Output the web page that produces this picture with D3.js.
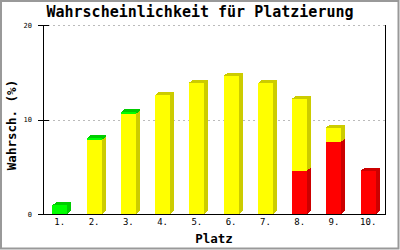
<!doctype html>
<html lang="de">
<head>
  <meta charset="utf-8">
  <script src="https://cdn.jsdelivr.net/npm/d3@7"></script>
  <title>Wahrscheinlichkeit für Platzierung</title>
  <style>
    body { margin: 0; background: #fff; }
    text { font-family: "DejaVu Sans Mono", monospace; fill: #000; }
  </style>
</head>
<body>
  <svg id="chart" width="400" height="250"></svg>
  <script>
    // data (values in %)
    const places = ["1.", "2.", "3.", "4.", "5.", "6.", "7.", "8.", "9.", "10."];
    const red    = [0, 0, 0, 0, 0, 0, 0, 4.6, 7.65, 4.6];
    const yellow = [0, 7.85, 10.6, 12.6, 13.9, 14.65, 13.85, 7.6, 1.5, 0];
    const green  = [0.9, 0.2, 0.2, 0, 0, 0, 0, 0, 0, 0];
    const yTicks = [0, 10, 20];

    const colors = {
      red:    { front: "#ff0000", dark: "#cc0000" },
      yellow: { front: "#ffff00", dark: "#cccc00" },
      green:  { front: "#00ff00", dark: "#00cc00" }
    };

    const rows = places.map((p, i) => ({ place: p, red: red[i], yellow: yellow[i], green: green[i] }));
    const keys = ["red", "yellow", "green"];
    const series = d3.stack().keys(keys)(rows);

    const svg = d3.select("#chart");
    const plotL = 43, plotR = 385, plotT = 25, plotB = 214;
    const dx = 4, dy = 3;

    const x = d3.scaleBand().domain(places).range([plotL, plotR])
      .paddingInner(0.56).paddingOuter(0.27);
    const y = d3.scaleLinear().domain([0, 20]).range([plotB, plotT]);

    // outer frame
    svg.append("rect")
      .attr("x", 1).attr("y", 1).attr("width", 397.5).attr("height", 247.5)
      .attr("fill", "none").attr("stroke", "#999").attr("stroke-width", 2);

    // dashed grid
    svg.append("g")
      .selectAll("line")
      .data(yTicks.filter(d => d > 0))
      .enter()
      .append("line")
        .attr("x1", plotL + 5).attr("x2", plotR)
        .attr("y1", d => Math.round(y(d)) + 0.5).attr("y2", d => Math.round(y(d)) + 0.5)
        .attr("stroke", "#bbb").attr("stroke-dasharray", "2,3");

    // bars, stacked bottom to top with a small 3D side and top
    const bars = svg.append("g").attr("shape-rendering", "crispEdges");
    places.forEach((p, i) => {
      const x0 = Math.round(x(p)), x1 = x0 + Math.round(x.bandwidth());
      let topKey = null;
      series.forEach(s => {
        const v0 = s[i][0], v1 = s[i][1];
        if (v1 - v0 <= 0) return;
        topKey = s.key;
        const ya = y(v0), yb = y(v1);
        bars.append("rect")
          .attr("x", x0).attr("y", yb)
          .attr("width", x1 - x0).attr("height", ya - yb)
          .attr("fill", colors[s.key].front);
        bars.append("polygon")
          .attr("points", [[x1, ya], [x1 + dx, ya - dy], [x1 + dx, yb - dy], [x1, yb]].join(" "))
          .attr("fill", colors[s.key].dark);
      });
      if (topKey) {
        const yt = y(d3.sum(keys, k => rows[i][k]));
        bars.append("polygon")
          .attr("points", [[x0, yt], [x0 + dx, yt - dy], [x1 + dx, yt - dy], [x1, yt]].join(" "))
          .attr("fill", colors[topKey].dark);
      }
    });

    // axes
    const axes = svg.append("g").attr("stroke", "#000").attr("stroke-width", 1)
      .attr("shape-rendering", "crispEdges");
    axes.append("line").attr("x1", plotL + 0.5).attr("x2", plotL + 0.5).attr("y1", plotT).attr("y2", plotB);
    axes.append("line").attr("x1", plotR + 0.5).attr("x2", plotR + 0.5).attr("y1", plotT).attr("y2", plotB);
    axes.append("line").attr("x1", plotL - 5).attr("x2", plotR + 1).attr("y1", plotB + 0.5).attr("y2", plotB + 0.5);
    axes.selectAll("line.tick")
      .data(yTicks)
      .enter()
      .append("line")
        .attr("class", "tick")
        .attr("x1", plotL - 5).attr("x2", plotL + 6)
        .attr("y1", d => Math.round(y(d)) + 0.5).attr("y2", d => Math.round(y(d)) + 0.5);

    svg.append("g")
      .selectAll("text")
      .data(yTicks)
      .enter()
      .append("text")
        .attr("x", 32).attr("y", d => y(d) + 2.5)
        .attr("text-anchor", "end")
        .style("font-size", "7px")
        .text(d => d);

    svg.append("g")
      .selectAll("text")
      .data(places)
      .enter()
      .append("text")
        .attr("x", d => x(d) + x.bandwidth() / 2)
        .attr("y", 225)
        .attr("text-anchor", "middle")
        .style("font-size", "9px")
        .text(d => d);

    // titles
    svg.append("text")
      .attr("x", 200).attr("y", 17)
      .attr("text-anchor", "middle")
      .style("font-size", "15px").style("font-weight", "bold")
      .text("Wahrscheinlichkeit für Platzierung");

    svg.append("text")
      .attr("x", 214).attr("y", 242.5)
      .attr("text-anchor", "middle")
      .style("font-size", "12.5px").style("font-weight", "bold")
      .text("Platz");

    svg.append("text")
      .attr("transform", "translate(16,125) rotate(-90)")
      .attr("text-anchor", "middle")
      .style("font-size", "12.5px").style("font-weight", "bold")
      .text("Wahrsch. (%)");
  </script>
</body>
</html>
